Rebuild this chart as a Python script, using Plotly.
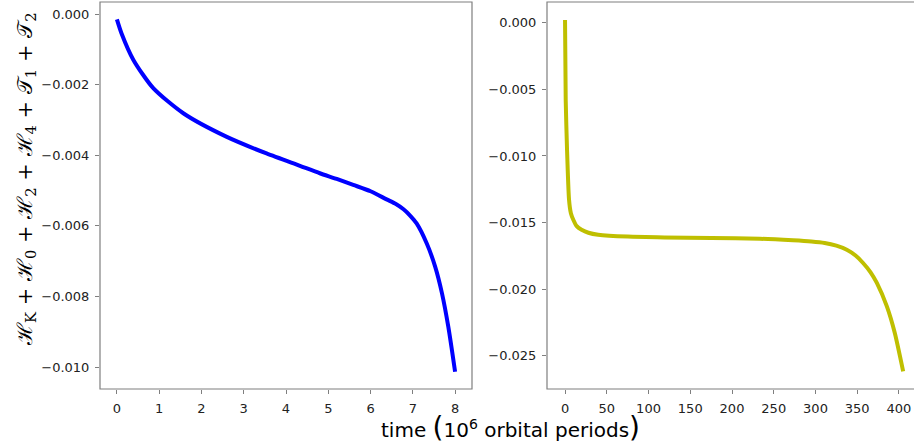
import plotly.graph_objects as go

# left panel: energy error against time
t_left = [0.0, 0.11, 0.39, 0.86, 1.57, 2.6, 3.54, 4.33, 4.8, 5.2, 5.59, 6.0,
          6.38, 6.6, 6.78, 6.93, 7.09, 7.33, 7.53, 7.69, 7.84, 8.0]
h_left = [-0.00015, -0.00055, -0.0013, -0.0021, -0.00281, -0.00348, -0.00395,
          -0.0043, -0.00451, -0.00467, -0.00484, -0.00502, -0.00525, -0.00538,
          -0.00553, -0.0057, -0.00593, -0.0065, -0.00716, -0.00791, -0.00886,
          -0.01013]

# right panel: longer run
t_right = [0.0, 0.8, 2.4, 4.8, 7.0, 9.9, 14.0, 19.8, 28.0, 39.7, 75.0, 119.0,
           175.0, 233.5, 273.0, 295.0, 311.0, 325.0, 337.5, 348.0, 357.0, 366.0,
           373.5, 385.5, 395.0, 405.0]
h_right = [0.000225, -0.00578, -0.00953, -0.01329, -0.01430, -0.01479, -0.01527,
           -0.01554, -0.01577, -0.01592, -0.01606, -0.01612, -0.01616, -0.01622,
           -0.01634, -0.01643, -0.01654, -0.01674, -0.01704, -0.01748, -0.01804,
           -0.01874, -0.01954, -0.0213, -0.0233, -0.02618]

left_ticks = [0, 1, 2, 3, 4, 5, 6, 7, 8]
left_yticks = [0.0, -0.002, -0.004, -0.006, -0.008, -0.010]
right_ticks = [0, 50, 100, 150, 200, 250, 300, 350, 400]
right_yticks = [0.0, -0.005, -0.010, -0.015, -0.020, -0.025]

W, H = 914, 444
frame_color = "#7f7f7f"
tick_font = dict(family="DejaVu Sans", size=13, color="#222222")

fig = go.Figure()
fig.add_trace(go.Scatter(x=t_left, y=h_left, mode="lines", xaxis="x", yaxis="y",
                         line=dict(color="#0000ff", width=4, shape="spline", smoothing=0.7),
                         showlegend=False, hoverinfo="skip"))
fig.add_trace(go.Scatter(x=t_right, y=h_right, mode="lines", xaxis="x2", yaxis="y2",
                         line=dict(color="#bfbf00", width=4, shape="spline", smoothing=0.6),
                         showlegend=False, hoverinfo="skip"))


def axis(domain, rng, ticks, fmt, anchor):
    return dict(
        domain=domain, range=rng, anchor=anchor,
        tickvals=ticks, ticktext=[fmt(v) for v in ticks],
        ticks="outside", ticklen=4, tickwidth=1, tickcolor=frame_color,
        tickfont=tick_font, showgrid=False, zeroline=False, showline=False,
        ticklabelstandoff=3,
    )


def yfmt(v):
    s = "%.3f" % abs(v)
    return ("\u2212" + s) if v < 0 else s


lx = [100 / W, 472 / W]
rx = [547 / W, 1.0]
ydom = [(H - 389) / H, (H - 2) / H]

layout = dict(
    width=W, height=H, margin=dict(l=0, r=0, t=0, b=0, autoexpand=False),
    paper_bgcolor="white", plot_bgcolor="white",
    xaxis=axis(lx, [-0.40, 8.40], left_ticks, lambda v: str(v), "y"),
    yaxis=axis(ydom, [-0.01062, 0.00034], left_yticks, yfmt, "x"),
    xaxis2=axis(rx, [-21.6, 418.0], right_ticks, lambda v: str(v), "y2"),
    yaxis2=axis(ydom, [-0.02751, 0.00157], right_yticks, yfmt, "x2"),
)
fig.update_layout(**layout)

# frames, like matplotlib spines; right one runs past the page edge
for x0, x1 in [(lx[0], lx[1]), (rx[0], 1.02)]:
    fig.add_shape(type="rect", xref="paper", yref="paper", x0=x0, x1=x1,
                  y0=ydom[0], y1=ydom[1], line=dict(color=frame_color, width=1.2))

fig.add_annotation(
    text="\u210b<sub>K</sub> + \u210b<sub>0</sub> + \u210b<sub>2</sub> + \u210b<sub>4</sub>"
         " + \U0001d4af<sub>1</sub> + \U0001d4af<sub>2</sub>",
    xref="paper", yref="paper", x=26 / W, y=(H - 179) / H, textangle=-90,
    showarrow=False, font=dict(family="DejaVu Serif", size=21, color="black"),
    xanchor="center", yanchor="middle",
)
fig.add_annotation(
    text="time <span style='font-size:28px'>(</span>10<sup>6</sup> orbital periods"
         "<span style='font-size:28px'>)</span>",
    xref="paper", yref="paper", x=510 / W, y=(H - 427) / H,
    showarrow=False, font=dict(family="DejaVu Sans", size=20, color="black"),
    xanchor="center", yanchor="middle",
)

# no page margin round the plot div
fig.write_html("out.html", config={"displayModeBar": False},
               post_script="document.body.style.margin='0px';")
